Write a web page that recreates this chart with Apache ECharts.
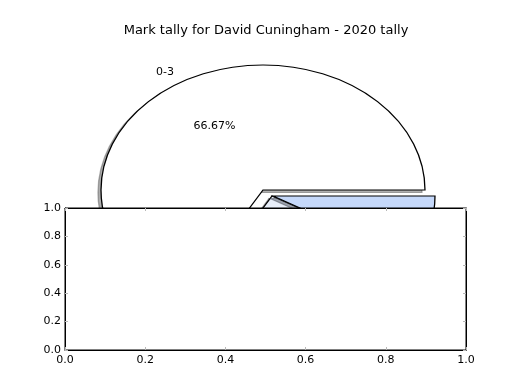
<!DOCTYPE html>
<html>
<head>
<meta charset="utf-8">
<script src="https://cdn.jsdelivr.net/npm/echarts@6/dist/echarts.min.js"></script>
<style>html,body{margin:0;padding:0;background:#fff}#c{width:520px;height:390px}</style>
</head>
<body>
<div id="c"></div>
<script>
// ---- data ----
const categories = ['0-3', '4-6', '7-9'];
const values = [8, 3, 1];
const sliceColors = ['#ffffff', '#e8eef9', '#c5d8fa'];
const xTicks = [0, 0.2, 0.4, 0.6, 0.8, 1.0];
const yTicks = [0, 0.2, 0.4, 0.6, 0.8, 1.0];
const titleText = 'Mark tally for David Cuningham - 2020 tally';

// ---- layout constants ----
const PIE_CX = 263, PIE_CY = 190, RX = 162, RY = 125;
const sliceOffsets = [[0, 0], [9, 6], [10, 6]];
const SHADOW_DX = -3, SHADOW_DY = 2.5;
const FONT = 'DejaVu Sans';

const total = values.reduce((a, b) => a + b, 0);
const cum = [];
values.reduce((acc, v, i) => { cum[i] = acc; return acc + v; }, 0);

function shade(hex) {
  const r = parseInt(hex.slice(1, 3), 16), g = parseInt(hex.slice(3, 5), 16), b = parseInt(hex.slice(5, 7), 16);
  return 'rgba(' + Math.round(r * 0.3) + ',' + Math.round(g * 0.3) + ',' + Math.round(b * 0.3) + ',0.45)';
}

function renderItem(params, api) {
  const i = params.dataIndex;
  const v = api.value(0);
  const a0 = cum[i] / total * Math.PI * 2;
  const a1 = (cum[i] + v) / total * Math.PI * 2;
  const am = (a0 + a1) / 2;
  const cx = PIE_CX + sliceOffsets[i][0];
  const cy = PIE_CY + sliceOffsets[i][1];
  const k = RX / RY;
  const shape = { cx: cx, cy: cy, r: RY, r0: 0, startAngle: -a0, endAngle: -a1, clockwise: false };
  const pct = (v / total * 100).toFixed(2) + '%';
  const lx = cx + 1.1 * RX * Math.cos(am), ly = cy - 1.1 * RY * Math.sin(am) + 1;
  const px = cx + 0.6 * RX * Math.cos(am), py = cy - 0.6 * RY * Math.sin(am) + 1;
  return {
    type: 'group',
    children: [
      { type: 'sector', shape: shape, originX: cx, originY: cy, scaleX: k, scaleY: 1,
        x: SHADOW_DX, y: SHADOW_DY,
        style: { fill: shade(sliceColors[i]), stroke: shade(sliceColors[i]), lineWidth: 1, strokeNoScale: true } },
      { type: 'sector', shape: shape, originX: cx, originY: cy, scaleX: k, scaleY: 1,
        style: { fill: sliceColors[i], stroke: '#000', lineWidth: 1, strokeNoScale: true } },
      { type: 'text', x: lx, y: ly,
        style: { text: categories[i], fill: '#000', font: '11px "' + FONT + '"',
          align: Math.cos(am) < 0 ? 'right' : 'left', verticalAlign: 'middle' } },
      { type: 'text', x: px, y: py,
        style: { text: pct, fill: '#000', font: '11px "' + FONT + '"', align: 'center', verticalAlign: 'middle' } }
    ]
  };
}

const chart = echarts.init(document.getElementById('c'), null, { renderer: 'canvas' });
const tickStyle = { show: true, inside: true, length: 3, lineStyle: { color: '#b8b8b8', width: 1 } };
const lineStyle = { show: true, onZero: false, lineStyle: { color: '#000', width: 1 } };
const lbl = { color: '#000', fontFamily: FONT, fontSize: 11 };
chart.setOption({
  animation: false,
  backgroundColor: '#fff',
  title: { text: titleText, left: 261, textAlign: 'center', top: 19,
    textStyle: { color: '#000', fontFamily: FONT, fontSize: 13, fontWeight: 'normal' } },
  grid: { left: 65, top: 208, width: 401, height: 142, show: true, backgroundColor: '#fff',
    borderColor: '#000', borderWidth: 1, z: 5, containLabel: false },
  xAxis: [
    { type: 'value', min: 0, max: 1, interval: 0.2, position: 'bottom', z: 6,
      axisLine: lineStyle, axisTick: tickStyle, splitLine: { show: false },
      axisLabel: Object.assign({ margin: 5, formatter: v => v.toFixed(1), showMinLabel: true, showMaxLabel: true }, lbl) },
    { type: 'value', min: 0, max: 1, interval: 0.2, position: 'top', z: 6,
      axisLine: lineStyle, axisTick: tickStyle, splitLine: { show: false }, axisLabel: { show: false } }
  ],
  yAxis: [
    { type: 'value', min: 0, max: 1, interval: 0.2, position: 'left', z: 6,
      axisLine: lineStyle, axisTick: tickStyle, splitLine: { show: false },
      axisLabel: Object.assign({ margin: 4, formatter: v => v.toFixed(1), showMinLabel: true, showMaxLabel: true }, lbl) },
    { type: 'value', min: 0, max: 1, interval: 0.2, position: 'right', z: 6,
      axisLine: lineStyle, axisTick: tickStyle, splitLine: { show: false }, axisLabel: { show: false } }
  ],
  series: [
    { type: 'custom', coordinateSystem: 'none', z: 1, renderItem: renderItem,
      data: values.map(v => [v]) },
    { type: 'line', xAxisIndex: 0, yAxisIndex: 0, data: [], silent: true }
  ]
});
</script>
</body>
</html>
